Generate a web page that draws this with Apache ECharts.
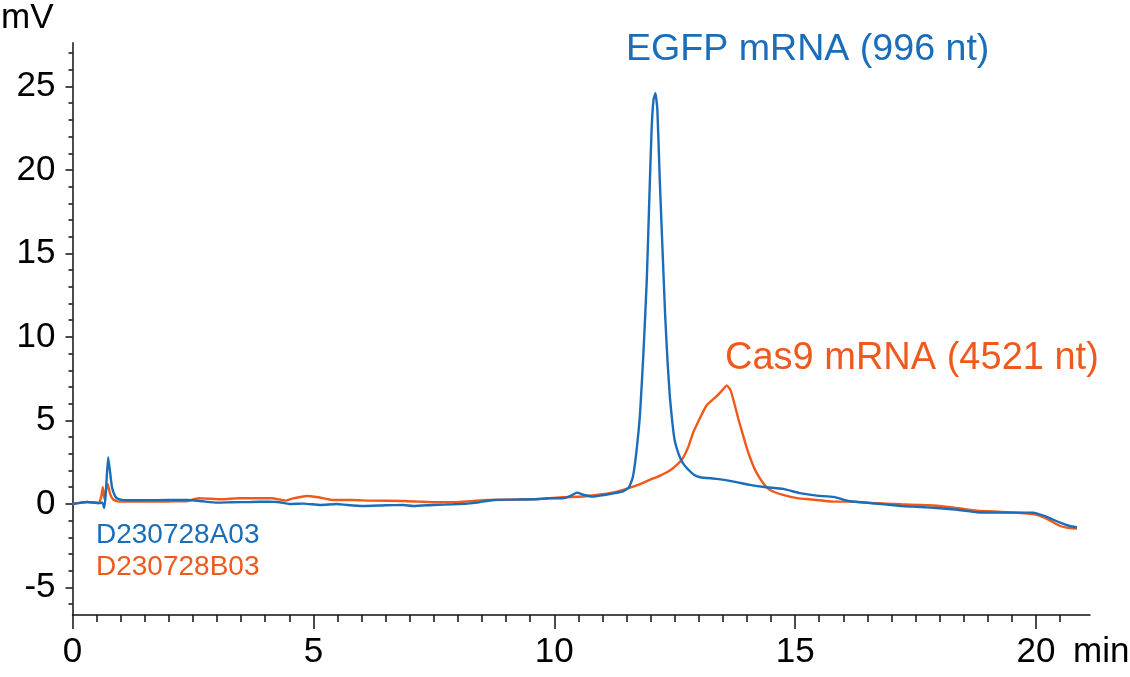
<!DOCTYPE html>
<html><head><meta charset="utf-8">
<script src="https://cdn.jsdelivr.net/npm/echarts@6/dist/echarts.min.js"></script>
<style>html,body{margin:0;padding:0;background:#fff}#c{width:1130px;height:677px}</style>
</head><body><div id="c"></div>
<script>
// Series A (EGFP, D230728A03)
const timeA = [0,0.3,0.55,0.62,0.66,0.69,0.74,0.78,0.82,0.87,0.92,1.0,1.1,1.5,2.0,2.4,2.7,3.0,3.3,3.7,4.1,4.3,4.5,4.8,5.14,5.48,5.7,6.03,6.5,6.87,7.07,7.5,7.9,8.2,8.4,8.73,9.2,9.63,9.9,10.18,10.35,10.47,10.6,10.8,11.0,11.2,11.43,11.55,11.63,11.7,11.78,11.85,11.92,11.97,12.02,12.06,12.10,12.14,12.19,12.25,12.30,12.35,12.40,12.45,12.5,12.58,12.67,12.8,12.9,13.03,13.37,13.7,14.06,14.4,14.75,15.1,15.45,15.8,16.14,16.6,17.2,17.6,18.0,18.4,18.77,19.3,19.94,20.2,20.5,20.7,20.85];
const valuesA = [0,0.12,0.06,0.08,-0.25,0.6,2.8,1.9,1.0,0.55,0.34,0.26,0.22,0.22,0.24,0.24,0.16,0.08,0.1,0.12,0.14,0.1,0.0,0.02,-0.06,0.0,-0.06,-0.12,-0.08,-0.06,-0.12,-0.06,-0.02,0.02,0.08,0.24,0.26,0.28,0.34,0.34,0.5,0.68,0.55,0.44,0.52,0.62,0.76,1.0,1.6,3.0,5.4,9.0,13.4,18.0,22.4,24.2,24.6,23.6,19.4,15.0,11.4,8.6,6.4,4.9,3.8,3.0,2.45,2.0,1.75,1.6,1.5,1.35,1.14,1.0,0.9,0.65,0.5,0.42,0.16,0.04,-0.12,-0.18,-0.26,-0.36,-0.5,-0.52,-0.52,-0.75,-1.12,-1.32,-1.4];
// Series B (Cas9, D230728B03)
const timeB = [0,0.3,0.55,0.6,0.63,0.66,0.7,0.73,0.78,0.85,0.96,1.5,2.0,2.4,2.62,3.1,3.45,4.14,4.42,4.56,4.86,5.1,5.4,5.8,6.17,6.87,7.2,7.56,8.0,8.25,8.6,9.1,9.63,10.18,10.6,11.0,11.3,11.7,11.98,12.2,12.4,12.55,12.67,12.78,12.88,13.0,13.16,13.37,13.5,13.58,13.66,13.74,13.82,13.9,13.99,14.1,14.2,14.35,14.48,14.75,15.1,15.24,15.8,16.14,16.6,17.2,17.6,18.0,18.4,18.77,19.3,19.94,20.2,20.5,20.7,20.85];
const valuesB = [0,0.12,0.06,0.5,1.0,0.3,0.9,1.2,0.6,0.25,0.14,0.14,0.15,0.18,0.34,0.28,0.34,0.34,0.2,0.32,0.48,0.4,0.24,0.24,0.2,0.18,0.14,0.1,0.12,0.16,0.24,0.26,0.3,0.4,0.45,0.58,0.74,1.1,1.44,1.7,2.0,2.35,2.75,3.4,4.25,5.0,5.9,6.45,6.85,7.1,6.8,6.0,5.1,4.3,3.4,2.5,1.86,1.2,0.84,0.54,0.32,0.3,0.14,0.14,0.06,-0.02,-0.06,-0.12,-0.26,-0.4,-0.48,-0.6,-0.85,-1.32,-1.45,-1.48];

const seriesNames = ['D230728A03', 'D230728B03'];
const peakLabels = ['EGFP mRNA (996 nt)', 'Cas9 mRNA (4521 nt)'];
const xMajorTicks = [0,5,10,15,20];
const xMinorTicks = [0.5,1,1.5,2,2.5,3,3.5,4,4.5,5.5,6,6.5,7,7.5,8,8.5,9,9.5,10.5,11,11.5,12,12.5,13,13.5,14,14.5,15.5,16,16.5,17,17.5,18,18.5,19,19.5,20.5];
const yMajorTicks = [-5,0,5,10,15,20,25];
const yMinorTicks = [-6,-4,-3,-2,-1,1,2,3,4,6,7,8,9,11,12,13,14,16,17,18,19,21,22,23,24,26,27];
const xRange = [0, 21.12];
const yRange = [-6.65, 27.62];

const BLUE = '#1a6db8';
const ORANGE = '#ef5a1c';
const FONT = 'Liberation Sans, Arial, sans-serif';

const chart = echarts.init(document.getElementById('c'));
const axisLineStyle = {color: '#111', width: 1.5};
chart.setOption({
  animation: false,
  backgroundColor: '#fff',
  grid: {left: 72.5, right: 40, top: 42.7, bottom: 62, containLabel: false, outerBoundsMode: 'none'},
  legend: {
    orient: 'vertical', left: 91, top: 521, icon: 'none', itemWidth: 0, itemHeight: 10, itemGap: 4,
    padding: 0, selectedMode: false,
    textStyle: {fontSize: 28, fontFamily: FONT},
    data: [
      {name: seriesNames[0], textStyle: {color: BLUE}},
      {name: seriesNames[1], textStyle: {color: ORANGE}}
    ]
  },
  xAxis: [{
    type: 'value', min: xRange[0], max: xRange[1],
    axisLine: {show: true, onZero: false, lineStyle: axisLineStyle},
    axisTick: {show: true, length: 14, customValues: xMajorTicks, lineStyle: axisLineStyle},
    axisLabel: {customValues: xMajorTicks, margin: 20, fontSize: 35, color: '#000', fontFamily: FONT},
    splitLine: {show: false}
  }, {
    type: 'value', min: xRange[0], max: xRange[1], position: 'bottom', offset: 0,
    axisLine: {show: false, onZero: false},
    axisTick: {show: true, length: 7, customValues: xMinorTicks, lineStyle: axisLineStyle},
    axisLabel: {show: false},
    splitLine: {show: false}
  }],
  yAxis: [{
    type: 'value', min: yRange[0], max: yRange[1], position: 'left',
    axisLine: {show: true, onZero: false, lineStyle: axisLineStyle},
    axisTick: {show: true, length: 7, customValues: yMajorTicks, lineStyle: axisLineStyle},
    axisLabel: {customValues: yMajorTicks, margin: 17, fontSize: 35, color: '#000', fontFamily: FONT},
    splitLine: {show: false}
  }, {
    type: 'value', min: yRange[0], max: yRange[1], position: 'left', offset: 0,
    axisLine: {show: false, onZero: false},
    axisTick: {show: true, length: 4, customValues: yMinorTicks, lineStyle: axisLineStyle},
    axisLabel: {show: false},
    splitLine: {show: false}
  }],
  series: [{
    name: seriesNames[0], type: 'line', xAxisIndex: 0, yAxisIndex: 0,
    data: timeA.map((t, i) => [t, valuesA[i]]),
    showSymbol: false, symbol: 'none', smooth: 0.15,
    lineStyle: {color: BLUE, width: 2.4}, itemStyle: {color: BLUE}, z: 3
  }, {
    name: seriesNames[1], type: 'line', xAxisIndex: 0, yAxisIndex: 0,
    data: timeB.map((t, i) => [t, valuesB[i]]),
    showSymbol: false, symbol: 'none', smooth: 0.15,
    lineStyle: {color: ORANGE, width: 2.4}, itemStyle: {color: ORANGE}, z: 2
  }],
  graphic: [
    {type: 'text', x: 1, y: 18, style: {text: 'mV', font: '35px ' + FONT, fill: '#000', verticalAlign: 'middle'}},
    {type: 'text', x: 1073, y: 652.5, style: {text: 'min', font: '35px ' + FONT, fill: '#000', verticalAlign: 'middle'}},
    {type: 'text', x: 626, y: 50, style: {text: peakLabels[0], font: '37.6px ' + FONT, fill: BLUE, verticalAlign: 'middle'}},
    {type: 'text', x: 725, y: 358.5, style: {text: peakLabels[1], font: '38px ' + FONT, fill: ORANGE, verticalAlign: 'middle'}}
  ]
});
</script>
</body></html>
